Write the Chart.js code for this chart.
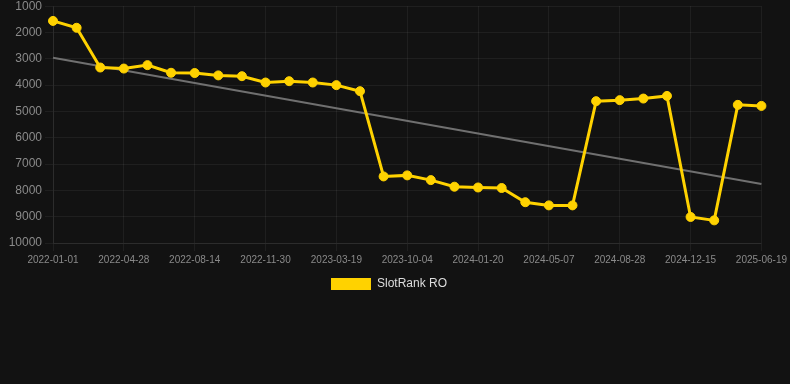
<!DOCTYPE html>
<html>
<head>
<meta charset="utf-8">
<script src="https://cdn.jsdelivr.net/npm/chart.js@4/dist/chart.umd.min.js"></script>
<style>
    html, body { margin: 0; padding: 0; background: #121212; overflow: hidden; }
    #wrap { position: relative; width: 790px; height: 304px; margin-top: -4px; }
</style>
</head>
<body>
<div id="wrap"><canvas id="rankChart"></canvas></div>
<script>
    const dates = [
        '2022-01-01', '2022-02-08', '2022-03-20', '2022-04-28', '2022-06-06', '2022-07-06',
        '2022-08-14', '2022-09-22', '2022-10-26', '2022-11-30', '2023-01-08', '2023-02-12',
        '2023-03-19', '2023-05-10', '2023-08-20', '2023-10-04', '2023-11-12', '2023-12-20',
        '2024-01-20', '2024-02-28', '2024-04-03', '2024-05-07', '2024-06-12', '2024-07-20',
        '2024-08-28', '2024-10-05', '2024-11-10', '2024-12-15', '2025-02-10', '2025-04-20',
        '2025-06-19'
    ];
    const slotRank = [
        1560, 1820, 3330, 3370, 3240, 3530, 3540, 3630, 3660, 3900, 3850, 3900,
        4000, 4230, 7470, 7430, 7610, 7860, 7890, 7910, 8450, 8570, 8570,
        4610, 4570, 4510, 4410, 9010, 9140, 4750, 4790
    ];
    // trend line: only its two ends
    const trendStart = 2960;
    const trendEnd = 7760;
    const trend = dates.map((d, i) => i === 0 ? trendStart : (i === dates.length - 1 ? trendEnd : null));

    const yTicks = { min: 1000, max: 10000, step: 1000 };

    const gold = '#FFD200';
    const gridColor = 'rgba(255,255,255,0.06)';
    const font = '"Liberation Sans", Arial, sans-serif';

    new Chart(document.getElementById('rankChart'), {
        type: 'line',
        data: {
            labels: dates,
            datasets: [
                {
                    label: 'SlotRank RO',
                    data: slotRank,
                    borderColor: gold,
                    backgroundColor: gold,
                    borderWidth: 3,
                    pointRadius: 4.5,
                    pointHoverRadius: 4.5,
                    pointBorderWidth: 1,
                    pointBackgroundColor: gold,
                    pointBorderColor: gold,
                    tension: 0
                },
                {
                    label: 'trend',
                    data: trend,
                    spanGaps: true,
                    borderColor: '#707070',
                    borderWidth: 2,
                    pointRadius: 0,
                    fill: false
                }
            ]
        },
        options: {
            responsive: true,
            maintainAspectRatio: false,
            animation: false,
            layout: { padding: { right: 12 } },
            plugins: {
                legend: {
                    position: 'bottom',
                    labels: {
                        color: '#dddddd',
                        font: { family: font, size: 12 },
                        boxWidth: 40,
                        boxHeight: 12,
                        padding: 9,
                        generateLabels: (chart) => Chart.defaults.plugins.legend.labels.generateLabels(chart)
                            .filter(item => item.text !== 'trend')
                            .map(item => Object.assign(item, { lineWidth: 0 }))
                    }
                },
                tooltip: { enabled: false }
            },
            scales: {
                x: {
                    grid: { color: gridColor },
                    border: { color: gridColor },
                    ticks: {
                        color: '#8a8a8a',
                        font: { family: font, size: 10 },
                        maxRotation: 0,
                        autoSkip: true
                    }
                },
                y: {
                    reverse: true,
                    min: yTicks.min,
                    max: yTicks.max,
                    afterFit: (scale) => { scale.width = 53; },
                    grid: { color: gridColor },
                    border: { color: gridColor },
                    ticks: {
                        stepSize: yTicks.step,
                        color: '#8a8a8a',
                        font: { family: font, size: 12 },
                        callback: (v) => String(v)
                    }
                }
            }
        }
    });
</script>
</body>
</html>
